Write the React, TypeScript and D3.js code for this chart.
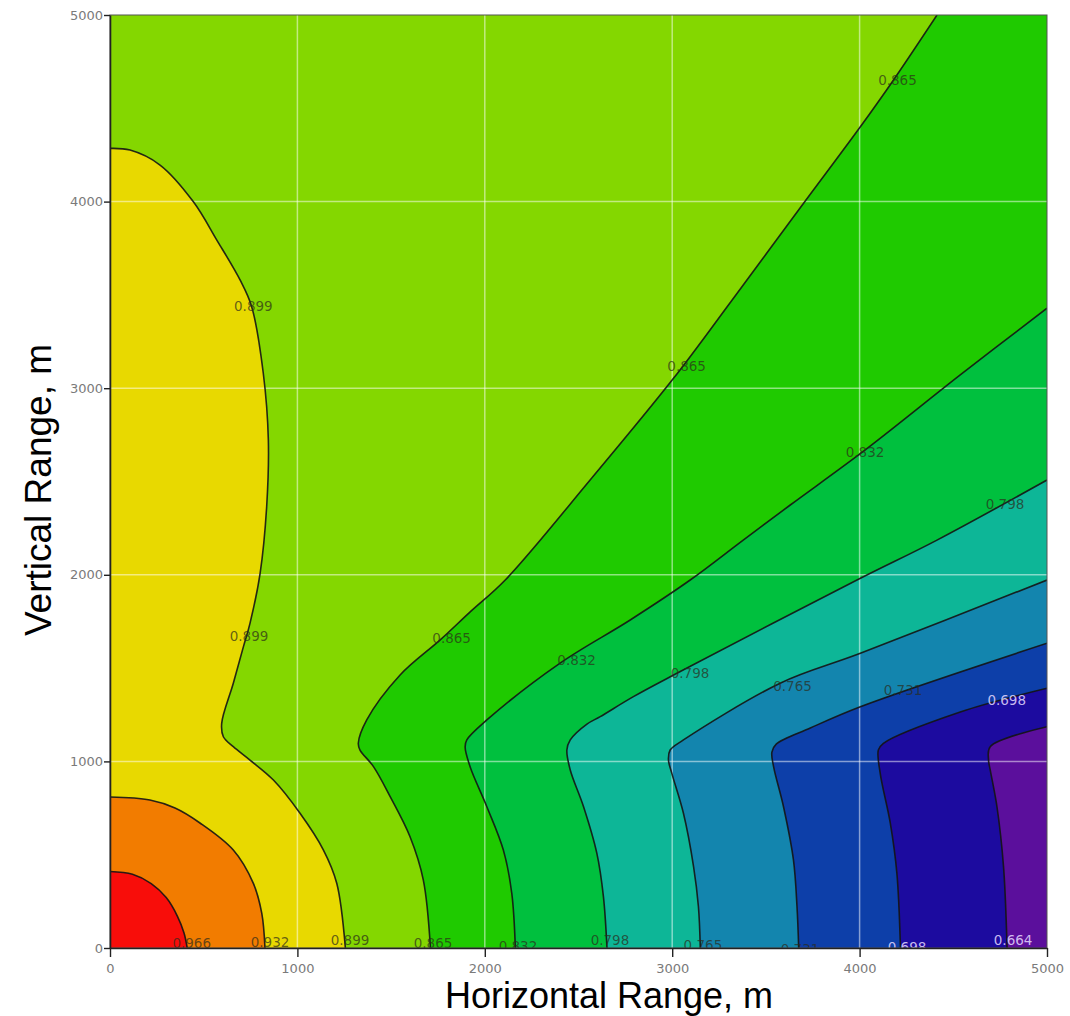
import React, { useEffect, useRef } from 'react';
import * as d3 from 'd3';

// contour levels, low to high
const levels = [0.664, 0.698, 0.731, 0.765, 0.798, 0.832, 0.865, 0.899, 0.932, 0.966];
// fill for each band: below 0.664, 0.664-0.698, ..., above 0.966
const bandColors = ['#5b0f9c', '#1c0b9f', '#0d3fa9', '#1385ae', '#0db697', '#00c03e', '#1fca00', '#84d700', '#e8d900', '#f27c00', '#f80d0a'];

// contour lines, [horizontal m, vertical m]
const line664 = [[5000, 1186], [4697, 1079], [4688, 1008], [4697, 954], [4733, 757], [4768, 436], [4787, 0]];
const line698 = [[5000, 1392], [4537, 1265], [4127, 1097], [4100, 1061], [4110, 936], [4164, 668], [4199, 400], [4218, 0]];
const line731 = [[5000, 1633], [4004, 1293], [3737, 1179], [3555, 1093], [3532, 1050], [3541, 972], [3594, 757], [3647, 472], [3666, 221], [3675, 0]];
const line765 = [[5000, 1972], [4004, 1579], [3576, 1419], [3060, 1115], [2989, 1061], [2980, 1008], [2998, 936], [3060, 722], [3114, 436], [3140, 221], [3150, 0]];
const line798 = [[5000, 2508], [4413, 2186], [3986, 1972], [3025, 1472], [2793, 1347], [2616, 1240], [2545, 1200], [2456, 1115], [2438, 1061], [2456, 954], [2527, 757], [2598, 507], [2633, 275], [2652, 0]];
const line832 = [[5000, 3429], [4537, 3071], [4030, 2669], [3630, 2374], [3379, 2186], [3096, 1972], [2776, 1758], [2402, 1527], [2011, 1222], [1904, 1115], [1895, 1077], [1922, 970], [2011, 757], [2099, 525], [2144, 293], [2163, 0]];
const line865 = [[4413, 5000], [4181, 4652], [4004, 4401], [3701, 3991], [3320, 3473], [3007, 3053], [2562, 2508], [2109, 1972], [1922, 1801], [1762, 1651], [1548, 1463], [1370, 1222], [1325, 1097], [1334, 1061], [1406, 972], [1495, 811], [1601, 596], [1672, 364], [1710, 0]];
const line899 = [[0, 4285], [107, 4276], [267, 4196], [445, 3999], [570, 3794], [694, 3580], [756, 3437], [818, 3080], [845, 2722], [836, 2365], [801, 2008], [747, 1740], [712, 1615], [658, 1419], [596, 1204], [605, 1132], [658, 1079], [747, 1007], [872, 900], [1014, 722], [1139, 525], [1210, 347], [1256, 0]];
const line932 = [[0, 809], [213, 793], [347, 750], [480, 670], [658, 525], [765, 346], [810, 185], [827, 0]];
const line966 = [[0, 410], [120, 395], [220, 345], [300, 270], [360, 170], [395, 80], [412, 0]];

const contourLines = [line664, line698, line731, line765, line798, line832, line865, line899, line932, line966];

// contour labels: value and where it sits
const labelLevels = [0.865, 0.899, 0.865, 0.832, 0.798, 0.899, 0.865, 0.832, 0.798, 0.765, 0.731, 0.698, 0.966, 0.932, 0.899, 0.865, 0.832, 0.798, 0.765, 0.731, 0.698, 0.664];
const labelX = [4202, 765, 3077, 4029, 4776, 742, 1823, 2490, 3095, 3642, 4232, 4785, 436, 854, 1281, 1724, 2177, 2668, 3164, 3682, 4253, 4819];
const labelY = [4648, 3437, 3115, 2654, 2379, 1668, 1660, 1540, 1472, 1400, 1383, 1325, 28, 32, 43, 27, 10, 43, 12, -8, 5, 43];

const ticks = [0, 1000, 2000, 3000, 4000, 5000];
const gridTicks = [1000, 2000, 3000, 4000];

const App = () => {
  const ref = useRef<SVGSVGElement>(null);

  useEffect(() => {
    const svg = d3.select(ref.current);
    svg.selectAll('*').remove();

    const x = d3.scaleLinear().domain([0, 5000]).range([110, 1047]);
    const y = d3.scaleLinear().domain([0, 5000]).range([948, 15]);

    svg.append('defs').append('clipPath').attr('id', 'plotClip')
      .append('rect')
      .attr('x', x(0)).attr('y', y(5000))
      .attr('width', x(5000) - x(0)).attr('height', y(0) - y(5000));

    const plot = svg.append('g').attr('clip-path', 'url(#plotClip)');

    // lowest band as background
    plot.append('rect')
      .attr('x', x(0)).attr('y', y(5000))
      .attr('width', x(5000) - x(0)).attr('height', y(0) - y(5000))
      .attr('fill', bandColors[0]);

    const line = d3.line<number[]>()
      .x((d) => x(d[0]))
      .y((d) => y(d[1]))
      .curve(d3.curveCatmullRom.alpha(0.5));

    // each level fills the side that holds the origin, painted low to high
    contourLines.forEach((pts, i) => {
      const s = pts[0];
      const corners = [[0, 0]];
      if (s[0] > 0) corners.push([0, 5000]);
      if (s[0] >= 5000 && s[1] < 5000) corners.push([5000, 5000]);
      const d = line(pts) + corners.map((c) => `L${x(c[0])},${y(c[1])}`).join('') + 'Z';
      plot.append('path').attr('d', d).attr('fill', bandColors[i + 1]);
    });

    // grid
    plot.selectAll('.gx').data(gridTicks).enter().append('line')
      .attr('x1', (d) => x(d)).attr('x2', (d) => x(d))
      .attr('y1', y(0)).attr('y2', y(5000))
      .attr('stroke', 'rgba(255,255,255,0.5)').attr('stroke-width', 1.5);
    plot.selectAll('.gy').data(gridTicks).enter().append('line')
      .attr('y1', (d) => y(d)).attr('y2', (d) => y(d))
      .attr('x1', x(0)).attr('x2', x(5000))
      .attr('stroke', 'rgba(255,255,255,0.5)').attr('stroke-width', 1.5);

    // contour lines
    contourLines.forEach((pts) => {
      plot.append('path').attr('d', line(pts))
        .attr('fill', 'none').attr('stroke', '#141414')
        .attr('stroke-width', 1.6).attr('stroke-opacity', 0.9);
    });

    // labels
    plot.selectAll('.lbl').data(labelLevels).enter().append('text')
      .attr('x', (d, i) => x(labelX[i]))
      .attr('y', (d, i) => y(labelY[i]))
      .attr('dy', '0.35em')
      .attr('text-anchor', 'middle')
      .attr('font-family', 'DejaVu Sans, Verdana, sans-serif')
      .attr('font-size', 13.5)
      .attr('fill', (d) => (d <= 0.698 ? '#e6dcff' : '#2b2b1a'))
      .attr('fill-opacity', (d) => (d <= 0.698 ? 0.85 : 0.7))
      .text((d) => d3.format('.3f')(d));

    // frame
    svg.append('rect')
      .attr('x', x(0)).attr('y', y(5000))
      .attr('width', x(5000) - x(0)).attr('height', y(0) - y(5000))
      .attr('fill', 'none').attr('stroke', '#555').attr('stroke-width', 1);

    const yAxis = svg.append('g')
      .attr('transform', `translate(${x(0)},0)`)
      .call(d3.axisLeft(y).tickValues(ticks).tickSize(6).tickSizeOuter(0).tickPadding(1).tickFormat(d3.format('d')));
    const xAxis = svg.append('g')
      .attr('transform', `translate(0,${y(0)})`)
      .call(d3.axisBottom(x).tickValues(ticks).tickSize(9).tickSizeOuter(0).tickPadding(7).tickFormat(d3.format('d')));

    [xAxis, yAxis].forEach((a) => {
      a.select('.domain').attr('stroke', '#222').attr('stroke-width', 1.6);
      a.selectAll('line').attr('stroke', '#222').attr('stroke-width', 1.4);
      a.selectAll('text')
        .attr('font-family', 'DejaVu Sans, Verdana, sans-serif')
        .attr('font-size', 13)
        .attr('fill', '#7a7a7a');
    });

    svg.append('text')
      .attr('x', 609).attr('y', 1008)
      .attr('text-anchor', 'middle')
      .attr('font-family', 'Liberation Sans, Arial, sans-serif')
      .attr('font-size', 36)
      .attr('fill', '#000')
      .text('Horizontal Range, m');

    svg.append('text')
      .attr('transform', 'translate(51,490) rotate(-90)')
      .attr('text-anchor', 'middle')
      .attr('font-family', 'Liberation Sans, Arial, sans-serif')
      .attr('font-size', 37)
      .attr('fill', '#000')
      .text('Vertical Range, m');
  }, []);

  return (
    <svg ref={ref} width={1070} height={1016} style={{ position: 'absolute', left: 0, top: 0 }}></svg>
  );
};

export default App;
